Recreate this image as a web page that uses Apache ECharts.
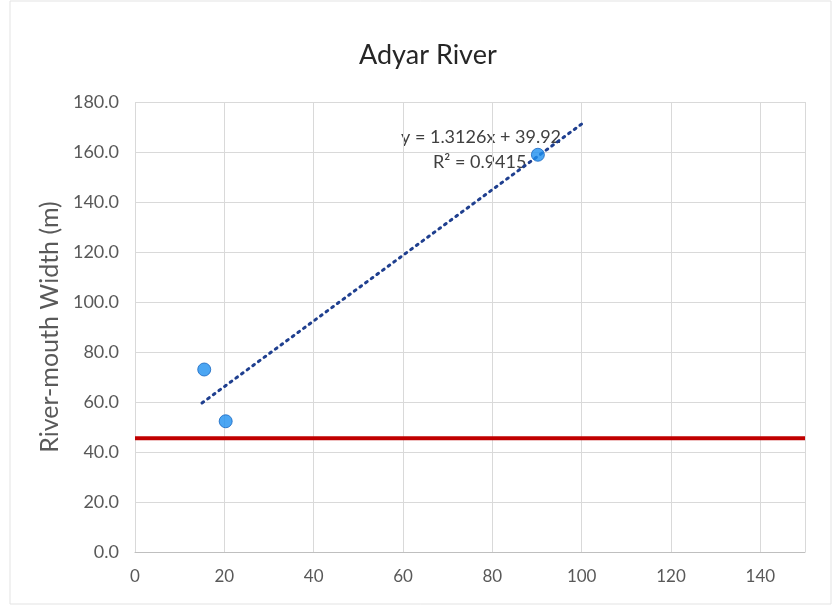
<!DOCTYPE html>
<html><head><meta charset="utf-8">
<script src="https://cdn.jsdelivr.net/npm/echarts@6/dist/echarts.min.js"></script>
<style>html,body{margin:0;padding:0;background:#fff}#c{width:833px;height:606px}</style>
</head><body><div id="c"></div>
<script>
const pointsX = [15.5, 20.3, 90.2];
const pointsY = [73.0, 52.3, 158.9];
const trendX = [15, 100];
const trendY = [59.6, 171.2];
const thresholdY = 45.5;
const xTicks = [0, 20, 40, 60, 80, 100, 120, 140];
const yTicks = [0, 20, 40, 60, 80, 100, 120, 140, 160, 180];
const titleText = 'Adyar River';
const yAxisName = 'River-mouth Width (m)';
const eqText = 'y = 1.3126x + 39.92';
const r2Text = 'R² = 0.9415';

const FONT = 'Lato, "Open Sans", sans-serif';
const chart = echarts.init(document.getElementById('c'));
chart.setOption({
  animation: false,
  backgroundColor: '#fff',
  title: {text: titleText, left: 354, top: 34, textStyle: {fontFamily: FONT, fontSize: 27, fontWeight: 'normal', color: '#262626', lineHeight: 32}},
  grid: {left: 135, right: 28, top: 102, bottom: 54},
  xAxis: {type: 'value', min: 0, max: 150, interval: 20,
    axisLine: {show: true, lineStyle: {color: '#bfbfbf'}}, axisTick: {show: false},
    axisLabel: {fontFamily: FONT, fontSize: 17, color: '#595959', margin: 16,
      formatter: v => xTicks.includes(v) ? String(v) : ''},
    splitLine: {show: true, lineStyle: {color: '#d9d9d9'}}},
  yAxis: {type: 'value', min: 0, max: 180, interval: 20,
    name: yAxisName, nameLocation: 'middle', nameGap: 66,
    nameTextStyle: {fontFamily: FONT, fontSize: 25, color: '#595959'},
    axisLine: {show: false}, axisTick: {show: false},
    axisLabel: {fontFamily: FONT, fontSize: 18, color: '#595959', margin: 16,
      formatter: v => yTicks.includes(v) ? v.toFixed(1) : ''},
    splitLine: {show: true, lineStyle: {color: '#d9d9d9'}}},
  series: [
    {type: 'line', data: [[0, thresholdY], [150, thresholdY]], symbol: 'none', z: 1,
      lineStyle: {color: '#c00000', width: 4}},
    {type: 'line', data: trendX.map((x, i) => [x, trendY[i]]), symbol: 'none', z: 2,
      lineStyle: {color: '#1f3f8f', width: 3, type: [2, 5], cap: 'round'}},
    {type: 'scatter', data: pointsX.map((x, i) => [x, pointsY[i]]), symbolSize: 13, z: 3,
      itemStyle: {color: '#1e90f0', borderColor: '#1565c0', borderWidth: 1}}
  ],
  graphic: [
    {type: 'rect', shape: {x: 10, y: 1, width: 821, height: 603}, style: {fill: 'none', stroke: '#e3e3e3', lineWidth: 1}, silent: true, z: -1},
    {type: 'text', left: 401, top: 128, style: {text: eqText, fontFamily: FONT, fontSize: 18, fill: '#404040'}},
    {type: 'text', left: 433, top: 153, style: {text: r2Text, fontFamily: FONT, fontSize: 18, fill: '#404040'}}
  ]
});
</script></body></html>
